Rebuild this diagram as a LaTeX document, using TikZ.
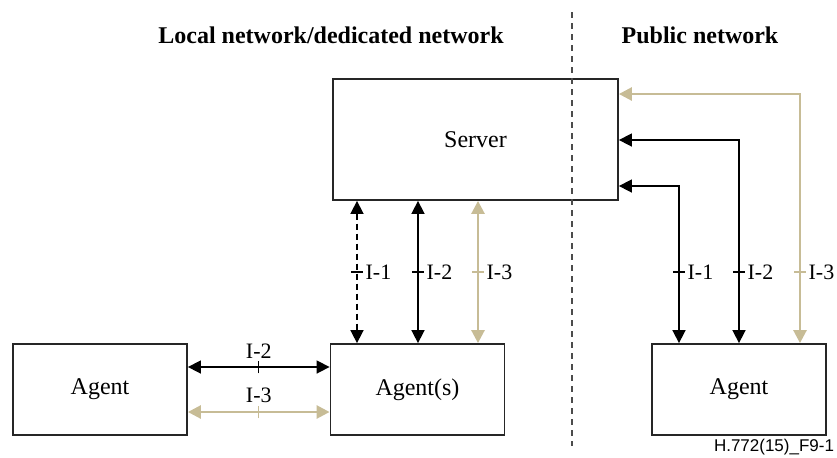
\documentclass[tikz,border=0pt]{standalone}
\usepackage{fontspec}
\setmainfont{Liberation Serif}
\newfontfamily\figsans{Liberation Sans}
\usetikzlibrary{arrows.meta,positioning}
\definecolor{khaki}{RGB}{199,188,150}

\begin{document}
\begin{tikzpicture}[x=0.5pt, y=-0.5pt,
    box/.style={draw=black!85, line width=0.9pt, minimum width=87pt, minimum height=45.5pt, inner sep=0pt, font=\fontsize{12}{14}\selectfont},
    link/.style={line width=0.8pt, {Triangle[length=6.5pt, width=6.5pt]}-{Triangle[length=6.5pt, width=6.5pt]}},
    khakilink/.style={link, draw=khaki, line width=1.3pt},
    tickmark/.style={line width=0.6pt},
    lbl/.style={font=\fontsize{11}{13}\selectfont, inner sep=1pt},
    title/.style={font=\fontsize{12}{14}\selectfont\bfseries}]
    \useasboundingbox (0,0) rectangle (837,457);
    % Place nodes
    \node[box, minimum width=142.5pt, minimum height=60.5pt] (server) at (475.5,139.5) {Server};
    \node[box] (agents) at (417.5,389.5) {Agent(s)};
    \node[box] (agentl) at (100,389.5)   {Agent};
    \node[box] (agentr) at (739,389.5)   {Agent};
    \node[title] (local)  at (331,35) {Local network/dedicated network};
    \node[title] (public) at (700,35) {Public network};
    \node[font=\figsans\fontsize{8.5}{10}\selectfont] (figno) at (774,447) {H.772(15)\_F9-1};
    % Divider
      \coordinate (dtop) at (572,12);
      \coordinate (dbot) at (572,446);
      \draw[black!70, line width=0.7pt, dash pattern=on 3pt off 2.5pt] (dtop) -- (dbot);
    % Server to Agent(s)
      \coordinate (v1) at (357,0);
      \coordinate (v2) at (418,0);
      \coordinate (v3) at (478,0);
      \draw[link, dash pattern=on 3pt off 2pt] (v1 |- server.south) -- coordinate[pos=0.5] (t1) (v1 |- agents.north);
      \draw[link] (v2 |- server.south) -- coordinate[pos=0.5] (t2) (v2 |- agents.north);
      \draw[khakilink] (v3 |- server.south) -- coordinate[pos=0.5] (t3) (v3 |- agents.north);
      \draw[tickmark] ([xshift=-3pt]t1) -- ([xshift=3pt]t1) node[lbl, right] {I-1};
      \draw[tickmark] ([xshift=-3pt]t2) -- ([xshift=3pt]t2) node[lbl, right] {I-2};
      \draw[tickmark, khaki] ([xshift=-3pt]t3) -- ([xshift=3pt]t3) node[lbl, right, black] {I-3};
    % Server to public Agent
      \coordinate (r1) at (679,186);
      \coordinate (r2) at (739,140);
      \coordinate (r3) at (800,94);
      \draw[link] (r1 |- agentr.north) |- (server.east |- r1);
      \draw[link] (r2 |- agentr.north) |- (server.east |- r2);
      \draw[khakilink] (r3 |- agentr.north) |- (server.east |- r3);
      \draw[tickmark] ([xshift=-3pt]r1 |- t1) -- ([xshift=3pt]r1 |- t1) node[lbl, right] {I-1};
      \draw[tickmark] ([xshift=-3pt]r2 |- t1) -- ([xshift=3pt]r2 |- t1) node[lbl, right] {I-2};
      \draw[tickmark, khaki] ([xshift=-3pt]r3 |- t1) -- ([xshift=3pt]r3 |- t1) node[lbl, right, black] {I-3};
    % Agent to Agent(s)
      \coordinate (h2) at (0,367);
      \coordinate (h3) at (0,412);
      \draw[link] (agentl.east |- h2) -- coordinate[pos=0.5] (t4) (agents.west |- h2);
      \draw[khakilink] (agentl.east |- h3) -- coordinate[pos=0.5] (t5) (agents.west |- h3);
      \draw[tickmark] ([yshift=-3.2pt]t4) -- ([yshift=3.2pt]t4) node[lbl, above] {I-2};
      \draw[tickmark, khaki] ([yshift=-3.2pt]t5) -- ([yshift=3.2pt]t5) node[lbl, above, black] {I-3};
\end{tikzpicture}
\end{document}
